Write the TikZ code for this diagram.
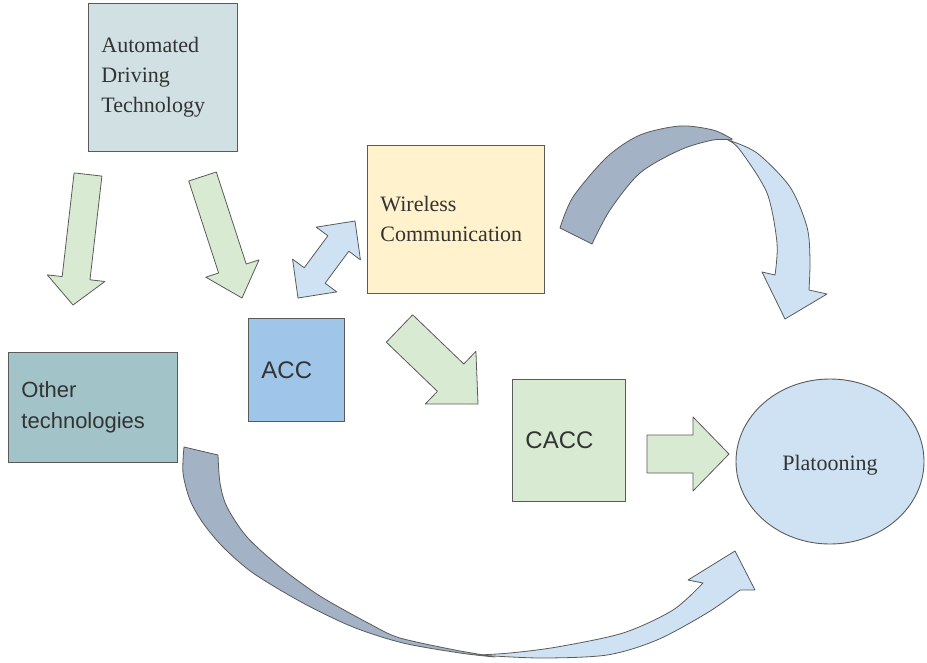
\documentclass[tikz,border=0pt]{standalone}
\usepackage{fontspec}
\setmainfont{Liberation Serif}
\setsansfont{Liberation Sans}
\usetikzlibrary{calc,shapes.geometric}

\definecolor{adtfill}{HTML}{D0E0E3}
\definecolor{wirelessfill}{HTML}{FFF2CC}
\definecolor{accfill}{HTML}{9FC5E8}
\definecolor{otherfill}{HTML}{A2C4C9}
\definecolor{caccfill}{HTML}{D9EAD3}
\definecolor{platfill}{HTML}{CFE2F3}
\definecolor{bandfill}{HTML}{A3B2C4}
\definecolor{linegray}{HTML}{5A5A5A}
\definecolor{textgray}{HTML}{333333}

% Blockpfeil: Start, Spitze, halbe Schaftbreite, halbe Kopfbreite, Kopflaenge, Stil
\newcommand{\blockarrow}[6]{%
  \coordinate (neck) at ($(#2)!#5!(#1)$);
  \filldraw[#6] ($(#1)!#3!90:(#2)$) -- ($(neck)!#3!90:(#2)$) -- ($(neck)!#4!90:(#2)$) -- (#2)
    -- ($(neck)!#4!-90:(#2)$) -- ($(neck)!#3!-90:(#2)$) -- ($(#1)!#3!-90:(#2)$) -- cycle;}

% Doppelpfeil: Spitze A, Spitze B, halbe Schaftbreite, halbe Kopfbreite, Kopflaenge, Stil
\newcommand{\dblarrow}[6]{%
  \coordinate (necka) at ($(#1)!#5!(#2)$);
  \coordinate (neckb) at ($(#2)!#5!(#1)$);
  \filldraw[#6] (#1) -- ($(necka)!#4!90:(#2)$) -- ($(necka)!#3!90:(#2)$) -- ($(neckb)!#3!-90:(#1)$)
    -- ($(neckb)!#4!-90:(#1)$) -- (#2) -- ($(neckb)!#4!90:(#1)$) -- ($(neckb)!#3!90:(#1)$)
    -- ($(necka)!#3!-90:(#2)$) -- ($(necka)!#4!-90:(#2)$) -- cycle;}

\tikzset{
  box/.style={rectangle, draw=linegray, line width=0.9pt, anchor=north west,
    inner xsep=13pt, inner ysep=0pt, align=left, text=textgray},
  serifbox/.style={font=\fontsize{22pt}{30pt}\selectfont},
  sansbox/.style={font=\sffamily\fontsize{22pt}{31pt}\selectfont},
  greenarrow/.style={fill=caccfill, draw=linegray, line width=0.8pt, line join=round},
  bluearrow/.style={fill=platfill, draw=linegray, line width=0.8pt, line join=round},
  darkband/.style={fill=bandfill, draw=linegray, line width=0.8pt, line join=round},
}

\begin{document}
\begin{tikzpicture}[x=1pt,y=-1pt]
  \useasboundingbox (0,0) rectangle (927,662);

  % Kaesten
  \node[box, serifbox, fill=adtfill, text width=123pt, minimum height=148pt] (adt) at (88,3)
    {Automated\\Driving\\Technology};
  \node[box, serifbox, fill=wirelessfill, text width=151pt, minimum height=148pt] (wireless) at (367,145)
    {Wireless\\Communication};
  \node[box, sansbox, font=\sffamily\fontsize{24pt}{31pt}\selectfont, fill=accfill,
    text width=70pt, minimum height=103pt] (acc) at (248,318) {ACC};
  \node[box, sansbox, fill=otherfill, text width=143pt, minimum height=110pt] (other) at (8,352)
    {Other\\technologies};
  \node[box, sansbox, font=\sffamily\fontsize{24pt}{31pt}\selectfont, fill=caccfill,
    text width=87pt, minimum height=122pt] (cacc) at (512,379) {CACC};
  \node[ellipse, draw=linegray, line width=0.9pt, fill=platfill, text=textgray,
    minimum width=188pt, minimum height=165pt, inner sep=0pt, serifbox,
    text height=20pt, text depth=2pt] (plat) at (830,461.5) {Platooning};

  % gerade Pfeile
  \coordinate (adt-o) at (88,174.5);   \coordinate (other-i) at (73,305);
  \coordinate (adt-a) at (202.5,176.5); \coordinate (acc-i) at (242,298);
  \coordinate (acc-w) at (298,298);    \coordinate (wireless-a) at (355,221);
  \coordinate (wireless-c) at (399.5,328.5); \coordinate (cacc-i) at (478,404);
  \coordinate (cacc-p) at (647,454);   \coordinate (plat-i) at (729,454);

  \blockarrow{adt-o}{other-i}{14pt}{29pt}{27pt}{greenarrow}
  \blockarrow{adt-a}{acc-i}{14.5pt}{28pt}{31pt}{greenarrow}
  \dblarrow{acc-w}{wireless-a}{13pt}{27.5pt}{28pt}{bluearrow}
  \blockarrow{wireless-c}{cacc-i}{19pt}{36.5pt}{38pt}{greenarrow}
  \blockarrow{cacc-p}{plat-i}{19pt}{37pt}{36pt}{greenarrow}

  % Bogen oben
  \filldraw[darkband] plot[smooth] coordinates {(560,228) (573,197) (607,157) (640,135) (680,126) (713,130) (732,139)}
    -- plot[smooth] coordinates {(732,140) (713,140) (680,150) (640,173) (610,210) (592,244)} -- cycle;
  \filldraw[bluearrow] plot[smooth] coordinates {(728,140) (757,153) (790,187) (807,227) (810,260) (809,290)}
    -- (827,294) -- (785,319) -- (762,272)
    -- plot[smooth] coordinates {(775,275) (777,243) (767,193) (740,150) (728,140)} -- cycle;

  % Bogen unten
  \filldraw[darkband] plot[smooth] coordinates {(184,447) (183,473) (190,500) (203,523) (223,547) (253,573) (303,603) (353,627) (403,643) (460,653) (495,657)}
    -- plot[smooth] coordinates {(460,651) (400,638) (370,624) (320,596) (280,567) (247,537) (227,507) (220,483) (218,455)} -- cycle;
  \filldraw[bluearrow] plot[smooth] coordinates {(478,655) (540,658) (607,655) (657,640) (707,613) (740,590)}
    -- (755,590) -- (735,551) -- (688,580)
    -- plot[smooth] coordinates {(703,583) (673,610) (623,633) (557,647) (510,653) (478,655)} -- cycle;
\end{tikzpicture}
\end{document}
